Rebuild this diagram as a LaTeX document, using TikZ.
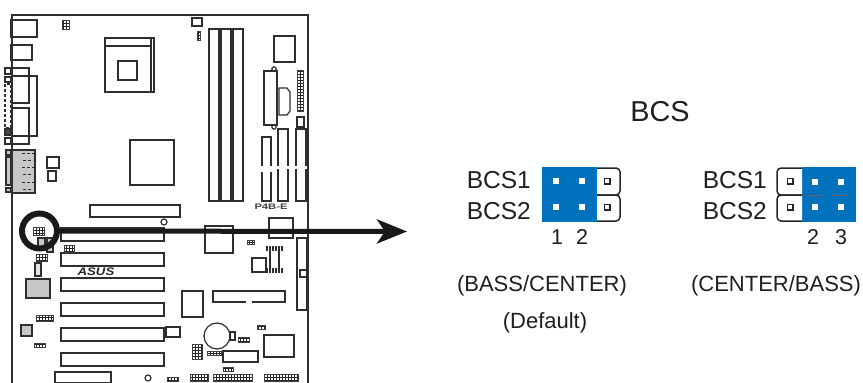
\documentclass[tikz,border=0pt]{standalone}
\usepackage{fontspec}
\setmainfont{Liberation Sans}
\usepackage{xcolor}
\usetikzlibrary{arrows.meta, patterns}

\definecolor{jumperblue}{HTML}{0071BC}
\definecolor{boardink}{HTML}{2E2E2E}

\tikzset{
	part/.style = {draw = boardink, line width = 1.2pt},
	grayed/.style = {part, fill = black!22},
	hdr/.style = {draw = black!75, line width = .8pt, pattern = grid, pattern color = black!85},
	label/.style = {font = \fontsize{24.5}{24.5}\selectfont, inner sep = 0pt, text = black!88},
	pinno/.style = {font = \fontsize{21.5}{21.5}\selectfont, inner sep = 0pt, text = black!88},
	caption/.style = {font = \fontsize{22}{22}\selectfont, inner sep = 0pt, text = black!88},
	capblock/.style = {fill = jumperblue},
	pinhole/.style = {fill = white, minimum size = 6pt, inner sep = 0pt},
	pinbox/.style = {draw = black!85, fill = white, line width = 1.5pt, minimum size = 5.5pt, inner sep = 0pt}
}

\begin{document}
\begin{tikzpicture}[x = 1pt, y = -1pt]
	\useasboundingbox (0,0) rectangle (863,383);
	
	% board
	\draw [part] (12,383) -- (12,15) -- (308,15) -- (308,383);
	
	% back panel
	\draw [part] (11,20) rectangle (37,37);
	\draw [part] (11,45) rectangle (32,60);
	\draw [part] (12,68) rectangle (29,103);
	\draw [part] (12,76) rectangle (37,136);
	\draw [part] (12,108) rectangle (29,144);
	\draw [part] (5,68) rectangle (11,74);
	\draw [part] (5,77) rectangle (11,82);
	\draw [part, densely dashed] (5,84) rectangle (11,128);
	\draw [part, fill = black!70] (5,129) rectangle (11,135);
	\draw [part] (5,138) rectangle (11,144);
	\draw [grayed] (12,150) rectangle (35,193);
	\draw [grayed] (6,150) rectangle (11,155);
	\draw [grayed] (6,157) rectangle (11,185);
	\draw [grayed] (6,188) rectangle (11,192);
	\foreach \y in {153,167,182}
		\draw [boardink, densely dashed, line width = .9pt] (22,\y) -- (34,\y) (23,{\y+7}) -- (33,{\y+7});
	\draw [part] (47,157) rectangle (59,168);
	\draw [part] (48,171) rectangle (56,181);
	
	% cpu socket
	\draw [part] (105,38) rectangle (154,92);
	\draw [part] (105,46) -- (151,46);
	\draw [part] (151,38) -- (151,92);
	\draw [part] (118,61) rectangle (137,80);
	\draw [part] (130,140) rectangle (174,185);
	
	% memory slots
	\foreach \x in {209,221,233}
		\draw [part] (\x,201) -- (\x,29) -- ({\x+10},29) -- ({\x+10},201) -- cycle;
	\draw [part] (192,18) rectangle (202,26);
	
	% upper right corner
	\draw [part] (274,36) rectangle (295,62);
	\draw [part] (264,71) rectangle (277,125);
	\draw [part] (274,69) circle (2.2);
	\draw [part] (274,127) circle (2.2);
	\draw [part] (279,88) -- (287,88) to [bend left = 15] (290,92) -- (290,111) to [bend left = 15] (287,115) -- (279,115) -- cycle;
	\draw [part] (297,117) rectangle (304,127);
	\draw [part] (262,166) -- (262,137) -- (271,137) -- (271,166);
	\draw [part] (262,172) -- (262,201) -- (271,201) -- (271,172);
	\foreach \x in {278,296} {
		\draw [part] (\x,166) -- (\x,129) -- ({\x+10},129) -- ({\x+10},166);
		\draw [part] (\x,169) -- (\x,201) -- ({\x+10},201) -- ({\x+10},169);
	}
	\node [inner sep = 0pt, font = \bfseries\fontsize{8}{8}\selectfont, text = black!75, xscale = 1.4, transform shape] (modelname) at (271,207) {P4B-E};
	
	% expansion slots
	\draw [part] (90,205) rectangle (180,217);
	\draw [part] (164,222) circle (3);
	\foreach \y in {228,253,278,303,328,353}
		\draw [part] (61,\y) rectangle (164,{\y+13});
	\draw [part] (55,372) rectangle (111,383);
	\draw [part] (148,378) circle (3);
	\node [inner sep = 0pt, font = \bfseries\itshape\fontsize{11}{11}\selectfont, text = black!85, xscale = 1.2, transform shape] (brand) at (96,272) {ASUS};
	
	% lower left parts
	\draw [grayed] (38,238) rectangle (45,250);
	\draw [grayed] (47,238) rectangle (53,252);
	\draw [part, fill = black!10] (35,263) rectangle (41,276);
	\draw [grayed] (26,279) rectangle (50,298);
	\draw [grayed] (21,325) rectangle (32,336);
	
	% parts on the right half
	\draw [part] (205,226) rectangle (233,253);
	\draw [part] (269,218) rectangle (293,238);
	\draw [part] (252,258) rectangle (266,272);
	\foreach \x in {267,276} {
		\draw [part, dash pattern = on 5pt off 17pt] (\x,246) -- (\x,273);
		\draw [part, dash pattern = on 5pt off 17pt] ({\x+6},246) -- ({\x+6},273);
		\draw [part] ({\x+3},246) -- ({\x+3},273);
	}
	\draw [part] (297,238) rectangle (307,310);
	\draw [part] (300,270) rectangle (307,277);
	\draw [part] (182,291) rectangle (203,317);
	\draw [part] (246,302) -- (213,302) -- (213,291) -- (285,291) -- (285,302) -- (252,302);
	\draw [part] (166,327) rectangle (180,337);
	\draw [part] (217,336) circle (13);
	\draw [part] (230,332) rectangle (235,340);
	\draw [part] (264,335) rectangle (294,357);
	\draw [part] (223,351) rectangle (258,362);
	
	% headers
	\foreach \xa/\ya/\xb/\yb in {62/20/69/29, 197/31/200/40, 297/70/303/111, 33/227/44/235, 36/254/47/261, 64/245/74/252, 36/315/53/321, 34/343/45/347, 247/240/254/244, 238/337/249/342, 257/325/265/329, 192/344/202/359, 207/351/221/355, 223/367/233/371, 167/377/178/381, 190/374/208/381, 213/374/252/381, 264/374/298/381}
		\draw [hdr] (\xa,\ya) rectangle (\xb,\yb);
	
	% arrow
	\coordinate (arrowtip) at (407,231.5);
	\node [circle, draw = black!90, line width = 6pt, minimum size = 35pt, inner sep = 0pt] (ring) at (39.5,231) {};
	\draw [black!90, line width = 5pt, -{Stealth[length = 30pt, width = 24pt, inset = 8pt]}] (ring) -- (arrowtip);
	
	% jumper, left setting
	\node [font = \fontsize{28.8}{28.8}\selectfont, inner sep = 0pt, text = black!88] (title) at (660,112) {BCS};
	\node [label, anchor = east] (leftone) at (531,180) {BCS1};
	\node [label, anchor = east] (lefttwo) at (531,211) {BCS2};
	\fill [capblock] (542,167) rectangle (597,222);
	\foreach \x in {556,582}
		\foreach \y in {181,207}
			\node [pinhole] (hole\x\y) at (\x,\y) {};
	\draw [pinbox, rounded corners = 4pt] (597,168) -- (620,168) -- (620,195) -- (597,195);
	\draw [pinbox, rounded corners = 4pt] (597,195) -- (620,195) -- (620,221) -- (597,221);
	\node [pinbox] (leftboxa) at (607,181) {};
	\node [pinbox] (leftboxb) at (607,207) {};
	\node [pinno] (leftnoa) at (557,237) {1};
	\node [pinno] (leftnob) at (582,237) {2};
	\node [caption] (leftcap) at (542,286) {(BASS/CENTER)};
	\node [caption] (defaultcap) at (545,323) {(Default)};
	
	% jumper, right setting
	\node [label, anchor = east] (rightone) at (767,180) {BCS1};
	\node [label, anchor = east] (righttwo) at (767,211) {BCS2};
	\fill [capblock] (802,167) rectangle (856,222);
	\draw [black!60, line width = .5pt] (806,195) -- (823,195) (831,195) -- (849,195);
	\foreach \x in {815,841}
		\foreach \y in {182,207}
			\node [pinhole] (hole\x\y) at (\x,\y) {};
	\draw [pinbox, rounded corners = 4pt] (802,168) -- (777,168) -- (777,195) -- (802,195);
	\draw [pinbox, rounded corners = 4pt] (802,195) -- (777,195) -- (777,221) -- (802,221);
	\node [pinbox] (rightboxa) at (790,181) {};
	\node [pinbox] (rightboxb) at (790,207) {};
	\node [pinno] (rightnoa) at (813,237) {2};
	\node [pinno] (rightnob) at (841,237) {3};
	\node [caption] (rightcap) at (776,286) {(CENTER/BASS)};
\end{tikzpicture}
\end{document}
